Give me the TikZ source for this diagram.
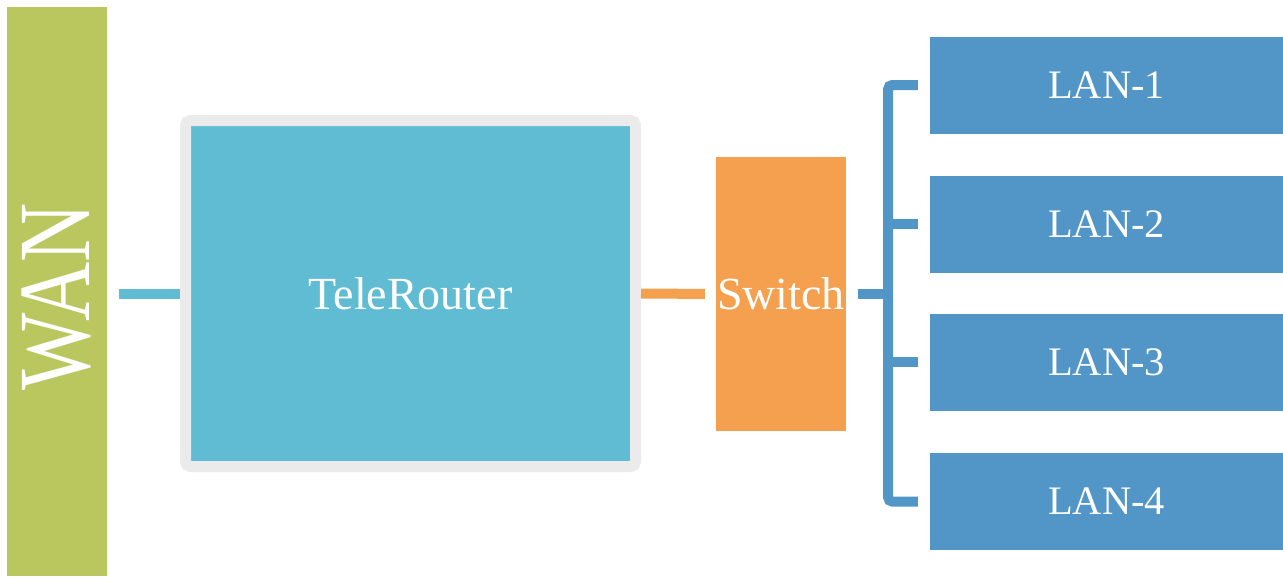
\documentclass[tikz,border=0pt]{standalone}
\usepackage{fontspec}
\setmainfont{Liberation Serif}
\definecolor{wangreen}{HTML}{B9C75E}
\definecolor{routercyan}{HTML}{5FBCD3}
\definecolor{routergray}{HTML}{EBEBEB}
\definecolor{switchorange}{HTML}{F5A04F}
\definecolor{lanblue}{HTML}{5296C8}
\tikzset{
  box/.style={rectangle, inner sep=0pt, text=white},
  bigtext/.style={font=\fontsize{46}{50}\selectfont},
  lantext/.style={font=\fontsize{40.5}{44}\selectfont},
  lanbox/.style={box, fill=lanblue, minimum width=353pt, minimum height=97pt, lantext},
  conn/.style={line width=10pt}
}
\begin{document}
\begin{tikzpicture}[x=1pt,y=-1pt]
\useasboundingbox (0,0) rectangle (1283,576);
% WAN bar
\node[box, fill=wangreen, minimum width=100pt, minimum height=569pt] (wan) at (57,291.5) {};
\node[text=white, rotate=90, inner sep=0pt, font=\fontsize{82}{90}\selectfont] (wanlabel) at (56,297) {\scalebox{1}[1.25]{WAN}};
% Router
\node[box, fill=routercyan, draw=routergray, line width=11pt, rounded corners=5pt,
      minimum width=450pt, minimum height=346pt, bigtext] (router) at (410.5,293.5) {TeleRouter};
% Switch
\node[box, fill=switchorange, minimum width=130pt, minimum height=274pt, bigtext] (switch) at (781,294) {Switch};
% LANs
\node[lanbox] (lan1) at (1106.5,85) {LAN-1};
\node[lanbox] (lan2) at (1106.5,224) {LAN-2};
\node[lanbox] (lan3) at (1106.5,362) {LAN-3};
\node[lanbox] (lan4) at (1106.5,501.5) {LAN-4};
% connectors
\draw[conn, routercyan, shorten <=12pt] (wan.east |- router.west) -- (router.west);
\draw[conn, switchorange, shorten >=11pt] (router.east) -- (switch.west);
\coordinate (bus) at ([xshift=42pt]switch.east);
\draw[conn, lanblue] ([xshift=12pt]switch.east) -- ([xshift=5pt]bus);
\draw[conn, lanblue, rounded corners=4pt] ([xshift=-12pt]lan1.west) -| (bus) |- ([xshift=-12pt]lan4.west);
\draw[conn, lanblue] (bus |- lan2.west) -- ([xshift=-12pt]lan2.west);
\draw[conn, lanblue] (bus |- lan3.west) -- ([xshift=-12pt]lan3.west);
\end{tikzpicture}
\end{document}
